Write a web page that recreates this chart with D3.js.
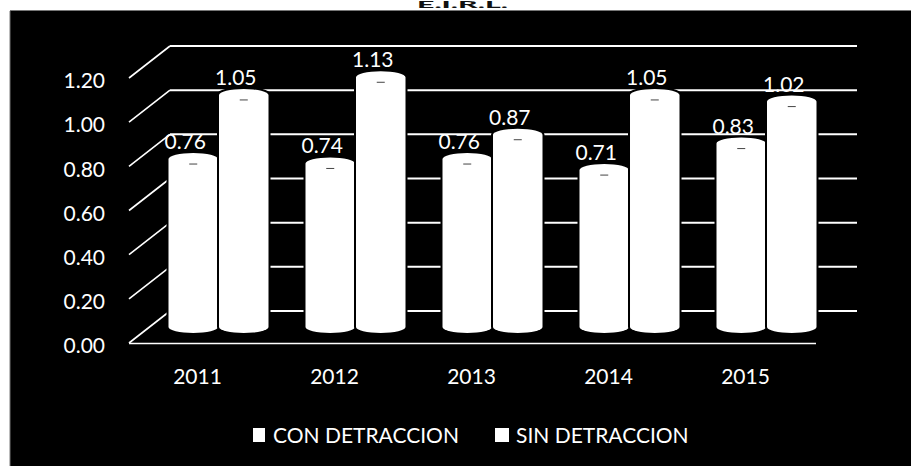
<!DOCTYPE html>
<html><head><meta charset="utf-8">
<script src="https://cdn.jsdelivr.net/npm/d3@7/dist/d3.min.js"></script>
<style>html,body{margin:0;padding:0;background:#fff}svg{display:block}text{font-family:Lato,"Open Sans",sans-serif}</style>
</head><body><svg id="c" width="911" height="466"></svg>
<script>
const categories = ["2011","2012","2013","2014","2015"];
const seriesNames = ["CON DETRACCION","SIN DETRACCION"];
const conDetraccion = [0.76,0.74,0.76,0.71,0.83];
const sinDetraccion = [1.05,1.13,0.87,1.05,1.02];
const yTicks = [0,0.2,0.4,0.6,0.8,1.0,1.2];
const titleText = "E.I.R.L.";

const svg = d3.select("#c");
const W=911,H=466;
const depthX=41, depthY=32;
svg.append("rect").attr("x",10).attr("y",11).attr("width",W-10).attr("height",H-11).attr("fill","#000");
svg.append("line").attr("x1",10).attr("x2",W).attr("y1",10.5).attr("y2",10.5).attr("stroke","#777");
svg.append("line").attr("x1",10).attr("x2",10).attr("y1",11).attr("y2",H).attr("stroke","#777");
const title = svg.append("text").attr("y",7.5).attr("font-size",9).attr("font-weight",900).attr("fill","#111").text(titleText);
const tw = title.node().getComputedTextLength();
title.attr("transform",`translate(417,0) scale(${91/tw},1)`);

const x = d3.scaleBand().domain(categories).range([129,814]);
const y = d3.scaleLinear().domain([0,1.2]).range([343,78]);
const inner = d3.scaleBand().domain(seriesNames).range([0,100]).paddingInner(0.02);

// walls
const grid = svg.append("g").attr("stroke","#fff").attr("fill","none");
yTicks.forEach(t=>{
  const yf=y(t), yb=yf-depthY;
  grid.append("line").attr("x1",129).attr("y1",yf).attr("x2",129+depthX).attr("y2",yb).attr("stroke-width",1.6);
  grid.append("line").attr("x1",129+depthX).attr("y1",yb).attr("x2",814+depthX+2).attr("y2",yb).attr("stroke-width",2);
});
svg.append("line").attr("x1",129).attr("x2",816).attr("y1",343.5).attr("y2",343.5).attr("stroke","#fff").attr("stroke-width",1.6);

// axis tick labels
const yAxis = d3.axisLeft(y).tickValues(yTicks).tickFormat(d3.format(".2f")).tickSize(0).tickPadding(0);
const gy = svg.append("g").attr("transform","translate(105,3)").call(yAxis);
gy.select(".domain").remove();
gy.selectAll("text").attr("fill","#fff").attr("font-size",21).attr("text-anchor","end");
const xAxis = d3.axisBottom(x).tickSize(0).tickPadding(0);
const gx = svg.append("g").attr("transform","translate(0,369)").call(xAxis);
gx.select(".domain").remove();
gx.selectAll("text").attr("fill","#fff").attr("font-size",21);

// cylinders
const ry=6, base=327;
const yBar = d3.scaleLinear().domain([0,1]).range([base, base-221]);
const rows = [];
categories.forEach((c,i)=>{
  rows.push({c,s:seriesNames[0],v:conDetraccion[i]});
  rows.push({c,s:seriesNames[1],v:sinDetraccion[i]});
});
const bars = svg.append("g");
rows.forEach(d=>{
  const x0 = x(d.c)+x.bandwidth()/2+21-50+inner(d.s);
  const w = inner.bandwidth(), rx=w/2;
  const t = yBar(d.v);
  const p = `M${x0},${t}A${rx},${ry} 0 0 1 ${x0+w},${t}L${x0+w},${base}A${rx},${ry} 0 0 1 ${x0},${base}Z`;
  bars.append("path").attr("d",p).attr("fill","#fff").attr("stroke","#000").attr("stroke-width",4).attr("paint-order","stroke");
  bars.append("line").attr("x1",x0+w/2-4).attr("x2",x0+w/2+4).attr("y1",t+5).attr("y2",t+5).attr("stroke","#444").attr("stroke-width",1);
});
rows.forEach(d=>{
  const x0 = x(d.c)+x.bandwidth()/2+21-50+inner(d.s);
  const w = inner.bandwidth();
  svg.append("text").attr("x",x0+w/2-8).attr("y",yBar(d.v)-ry-4).attr("text-anchor","middle").attr("font-size",21).attr("fill","#fff").text(d3.format(".2f")(d.v));
});

// legend
const lg = svg.append("g");
[[253,273],[495,516]].forEach((p,i)=>{
  lg.append("rect").attr("x",p[0]).attr("y",428).attr("width",i?14:12).attr("height",14).attr("fill","#fff");
  lg.append("text").attr("x",p[1]).attr("y",443).attr("font-size",21).attr("fill","#fff").text(seriesNames[i]);
});
</script></body></html>
